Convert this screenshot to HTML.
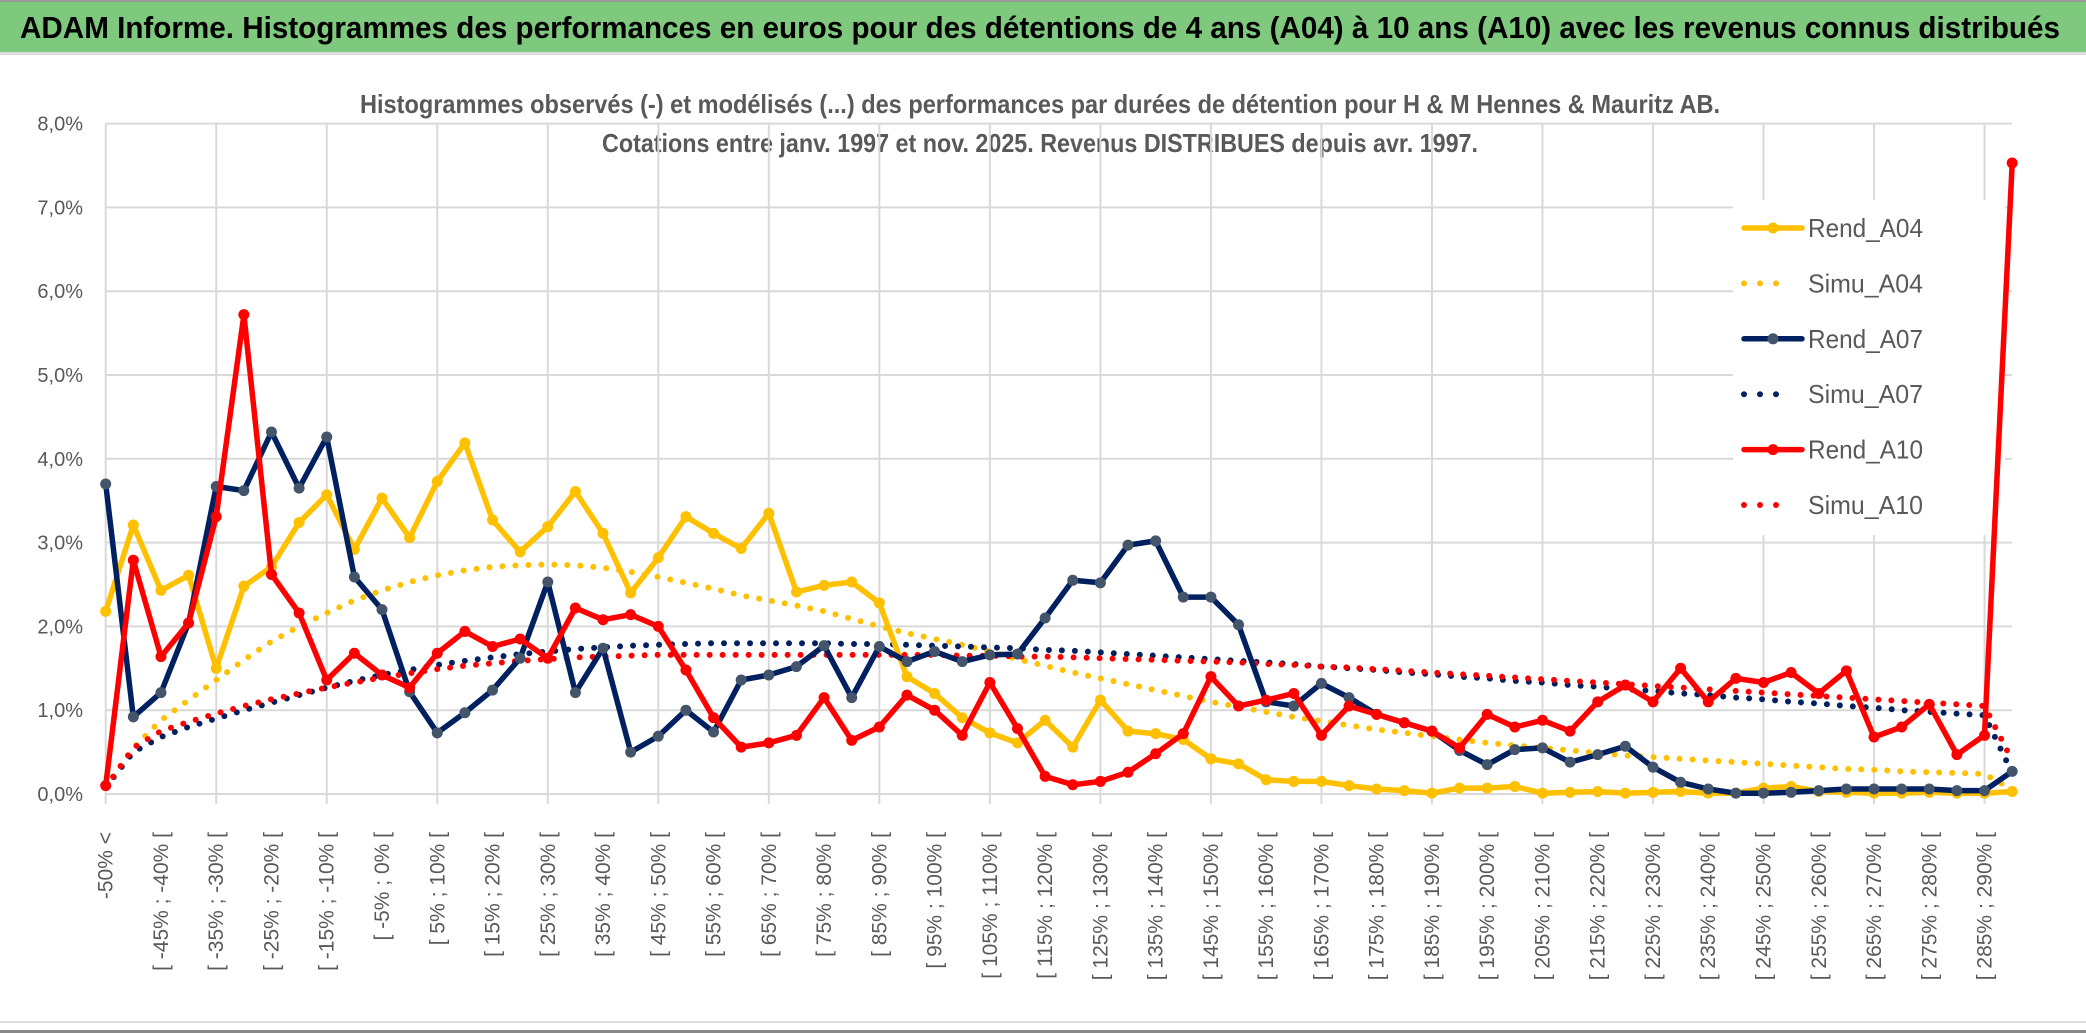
<!DOCTYPE html>
<html><head><meta charset="utf-8"><style>
html,body{margin:0;padding:0;background:#fff;}
svg{display:block;font-family:"Liberation Sans",sans-serif;}
</style></head><body>
<svg id="chart" width="2086" height="1033" viewBox="0 0 2086 1033" xmlns="http://www.w3.org/2000/svg">
<rect x="0" y="0" width="2086" height="1033" fill="#fff"/>
<rect x="0" y="0" width="2086" height="2" fill="#999"/>
<rect x="0" y="2" width="2086" height="50" fill="#7fc97f"/>
<rect x="0" y="52" width="2086" height="3" fill="#ddd"/>
<text x="20" y="38" font-size="31" font-weight="bold" fill="#000" textLength="2040" lengthAdjust="spacingAndGlyphs">ADAM Informe. Histogrammes des performances en euros pour des détentions de 4 ans (A04) à 10 ans (A10) avec les revenus connus distribués</text>
<text x="1040" y="113" font-size="26" font-weight="bold" fill="#595959" text-anchor="middle" textLength="1360" lengthAdjust="spacingAndGlyphs">Histogrammes observés (-) et modélisés (...) des performances par durées de détention pour H &amp; M Hennes &amp; Mauritz AB.</text>
<text x="1040" y="152" font-size="26" font-weight="bold" fill="#595959" text-anchor="middle" textLength="876" lengthAdjust="spacingAndGlyphs">Cotations entre janv. 1997 et nov. 2025. Revenus DISTRIBUES depuis avr. 1997.</text>
<g id="grid"></g>
<rect x="1733" y="200" width="272" height="335" fill="#fff"/>
<g id="ylabels"></g>
<g id="xlabels"></g>
<g id="series"></g>
<g id="legend"></g>
<rect x="0" y="1021" width="2086" height="2" fill="#ddd"/>
<rect x="0" y="1030" width="2086" height="3" fill="#888"/>
</svg>
<script>
const yTicks = [0,1,2,3,4,5,6,7,8];
const yTickLabels = ["0,0%","1,0%","2,0%","3,0%","4,0%","5,0%","6,0%","7,0%","8,0%"];
const categories = (function(){ const c=["-50% <"]; for(let a=-50;a<290;a+=5){c.push("[ "+a+"% ; "+(a+5)+"% [");} return c; })();
const rendA04 = [2.18,3.21,2.43,2.61,1.50,2.48,2.71,3.24,3.57,2.92,3.53,3.06,3.73,4.19,3.27,2.89,3.19,3.61,3.11,2.40,2.82,3.31,3.11,2.93,3.35,2.41,2.49,2.53,2.28,1.40,1.20,0.91,0.73,0.61,0.88,0.56,1.12,0.75,0.72,0.65,0.42,0.36,0.17,0.15,0.15,0.10,0.06,0.04,0.01,0.07,0.07,0.09,0.01,0.02,0.03,0.01,0.02,0.03,0.01,0.01,0.07,0.09,0.03,0.02,0.01,0.01,0.02,0.01,0.01,0.03];
const simuA04 = [0.08,0.55,0.88,1.12,1.36,1.60,1.82,2.00,2.16,2.31,2.43,2.53,2.61,2.67,2.71,2.73,2.74,2.73,2.70,2.65,2.59,2.52,2.45,2.37,2.31,2.25,2.18,2.09,2.00,1.92,1.85,1.78,1.70,1.61,1.53,1.45,1.38,1.31,1.24,1.17,1.10,1.04,0.98,0.92,0.87,0.82,0.77,0.73,0.69,0.65,0.61,0.58,0.55,0.52,0.49,0.46,0.44,0.42,0.40,0.38,0.36,0.34,0.32,0.30,0.29,0.27,0.26,0.25,0.24,0.05];
const rendA07 = [3.70,0.92,1.21,2.04,3.67,3.62,4.32,3.65,4.26,2.59,2.20,1.22,0.73,0.97,1.24,1.62,2.53,1.21,1.74,0.50,0.69,1.00,0.74,1.36,1.42,1.52,1.77,1.15,1.76,1.58,1.70,1.58,1.66,1.67,2.10,2.55,2.52,2.97,3.02,2.35,2.35,2.02,1.10,1.05,1.32,1.15,0.95,0.85,0.75,0.52,0.35,0.53,0.55,0.38,0.47,0.57,0.32,0.14,0.06,0.01,0.01,0.02,0.04,0.06,0.06,0.06,0.06,0.04,0.04,0.27];
const simuA07 = [0.08,0.50,0.68,0.80,0.90,1.00,1.09,1.18,1.27,1.35,1.42,1.48,1.54,1.59,1.63,1.67,1.70,1.73,1.75,1.77,1.78,1.79,1.80,1.80,1.80,1.80,1.80,1.79,1.79,1.78,1.77,1.76,1.75,1.74,1.72,1.71,1.69,1.67,1.65,1.63,1.61,1.59,1.57,1.55,1.52,1.50,1.48,1.45,1.43,1.40,1.38,1.35,1.33,1.30,1.28,1.25,1.23,1.20,1.18,1.15,1.13,1.10,1.08,1.05,1.03,1.00,0.98,0.96,0.94,0.25];
const rendA10 = [0.10,2.79,1.64,2.04,3.31,5.72,2.62,2.16,1.36,1.68,1.42,1.27,1.68,1.94,1.76,1.85,1.62,2.22,2.08,2.14,2.00,1.48,0.91,0.56,0.61,0.70,1.15,0.64,0.80,1.18,1.00,0.70,1.33,0.78,0.21,0.11,0.15,0.26,0.48,0.72,1.40,1.05,1.12,1.20,0.70,1.05,0.95,0.85,0.75,0.55,0.95,0.80,0.88,0.75,1.10,1.30,1.10,1.50,1.10,1.38,1.33,1.45,1.20,1.47,0.68,0.80,1.07,0.47,0.70,7.53];
const simuA10 = [0.08,0.55,0.75,0.86,0.96,1.05,1.13,1.20,1.27,1.33,1.39,1.44,1.49,1.53,1.56,1.59,1.61,1.63,1.64,1.65,1.66,1.66,1.66,1.66,1.66,1.66,1.66,1.66,1.66,1.66,1.66,1.65,1.65,1.64,1.64,1.63,1.62,1.61,1.60,1.59,1.58,1.57,1.55,1.54,1.52,1.51,1.49,1.47,1.45,1.43,1.41,1.39,1.37,1.35,1.33,1.31,1.29,1.27,1.25,1.23,1.21,1.19,1.17,1.15,1.13,1.11,1.09,1.07,1.05,0.40];
const seriesNames = ["Rend_A04","Simu_A04","Rend_A07","Simu_A07","Rend_A10","Simu_A10"];

const NS="http://www.w3.org/2000/svg";
const X0=105.7, DX=27.63, Y0=794, DY=83.8, XR=2012;
function xs(i){return X0+i*DX;}
function ys(v){return Y0-v*DY;}
function mk(tag,attrs,parent){const e=document.createElementNS(NS,tag);for(const k in attrs)e.setAttribute(k,attrs[k]);parent.appendChild(e);return e;}

const grid=document.getElementById('grid');
yTicks.forEach(function(t){
  const l=mk('line',{x1:X0,x2:XR,y1:ys(t),y2:ys(t),stroke:'#d9d9d9','stroke-width':2},grid);
  
  
});
for(let i=0;i<categories.length;i+=4){
  const l=mk('line',{x1:xs(i),x2:xs(i),y1:ys(8),y2:Y0+10,stroke:'#d9d9d9','stroke-width':2},grid);
  
  
}
const yl=document.getElementById('ylabels');
yTicks.forEach(function(t,k){
  const e=mk('text',{x:83,y:ys(t)+7,'font-size':20,fill:'#595959','text-anchor':'end'},yl);
  e.textContent=yTickLabels[k];
  
  
});
const xl=document.getElementById('xlabels');
for(let i=0;i<categories.length;i+=2){
  const x=xs(i)+7, y=832;
  const e=mk('text',{x:x,y:y,'font-size':21,fill:'#595959','text-anchor':'end',transform:'rotate(-90 '+x+' '+y+')'},xl);
  e.textContent=categories[i];
  
  
}
const sg=document.getElementById('series');
function pts(arr){return arr.map(function(v,i){return xs(i).toFixed(1)+','+ys(v).toFixed(1);}).join(' ');}
function dotted(arr,color,name){
  const p=mk('polyline',{points:pts(arr),fill:'none',stroke:color,'stroke-width':6,'stroke-dasharray':'0 13','stroke-linecap':'round'},sg);
  
  
}
function solid(arr,color,mcolor,name){
  const p=mk('polyline',{points:pts(arr),fill:'none',stroke:color,'stroke-width':5.5,'stroke-linejoin':'round'},sg);
  
  
  arr.forEach(function(v,i){
    const c=mk('circle',{cx:xs(i),cy:ys(v),r:5.5,fill:mcolor},sg);
    
    
  });
}
dotted(simuA04,'#ffc000','simu-a04-line');
dotted(simuA07,'#002060','simu-a07-line');
dotted(simuA10,'#ff0000','simu-a10-line');
solid(rendA04,'#ffc000','#ffc000','rend-a04-line');
solid(rendA07,'#002060','#44546a','rend-a07-line');
solid(rendA10,'#ff0000','#ff0000','rend-a10-line');

const lg=document.getElementById('legend');
const legColors=['#ffc000','#ffc000','#002060','#002060','#ff0000','#ff0000'];
const legMarker=['#ffc000',null,'#44546a',null,'#ff0000',null];
seriesNames.forEach(function(n,k){
  const y=228+k*55.4;
  const g=mk('g',{},lg);
  
  
  if(legMarker[k]){
    mk('line',{x1:1744,x2:1802,y1:y,y2:y,stroke:legColors[k],'stroke-width':5.5,'stroke-linecap':'round'},g);
    mk('circle',{cx:1773,cy:y,r:5.5,fill:legMarker[k]},g);
  } else {
    mk('line',{x1:1744,x2:1792,y1:y,y2:y,stroke:legColors[k],'stroke-width':6,'stroke-dasharray':'0 16','stroke-linecap':'round'},g);
  }
  const t=mk('text',{x:1808,y:y+9,'font-size':26,fill:'#595959',textLength:115,lengthAdjust:'spacingAndGlyphs'},g);
  t.textContent=n;
});
</script>
</body></html>
